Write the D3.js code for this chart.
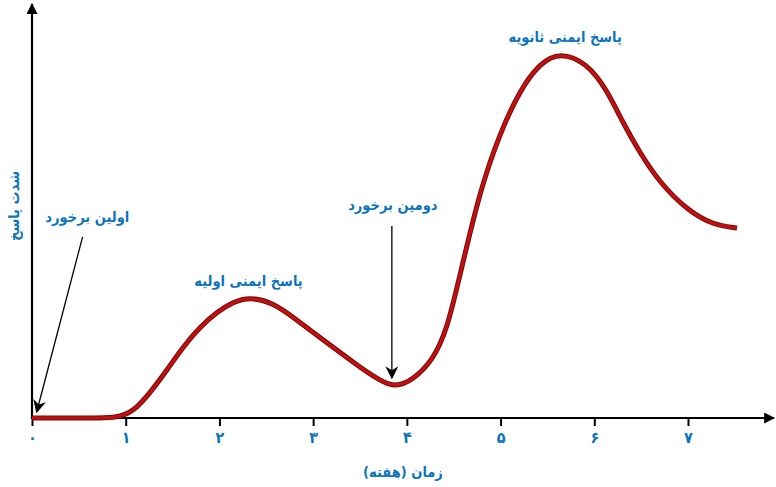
<!DOCTYPE html>
<html>
<head>
<meta charset="utf-8">
<script src="https://cdn.jsdelivr.net/npm/d3@7"></script>
<style>
  body { margin: 0; background: #fff; }
  text { font-family: "DejaVu Sans Condensed", "DejaVu Sans", sans-serif; }
</style>
</head>
<body>
<svg id="chart" width="776" height="487"></svg>
<script>
// weeks on the x axis and response strength (arbitrary units) on y
let weeks = [0, 0.6, 0.907, 1.078, 1.259, 1.441, 1.611, 1.793, 1.974, 2.145, 2.326, 2.572,
  2.785, 3.105, 3.468, 3.842, 4.066, 4.279, 4.428, 4.567, 4.781, 4.994, 5.207, 5.421,
  5.634, 5.922, 6.136, 6.307, 6.488, 6.701, 6.99, 7.267, 7.523]
let response = [0, 0, 0, 1.5, 6.25, 12, 17.75, 22.75, 26.5, 29, 30.3, 28.75,
  25.25, 19.5, 13.25, 7, 9.5, 14.5, 22, 35.75, 57, 71.25, 82, 88.75,
  91.5, 88.75, 82, 73.75, 66.25, 58.75, 52, 48.25, 47.5]
let tick_values = [0, 1, 2, 3, 4, 5, 6, 7]
let tick_labels = ["۰", "۱", "۲", "۳", "۴", "۵", "۶", "۷"]

let x_title = "زمان (هفته)"
let y_title = "شدت پاسخ"
let labels = [
  {text: "اولین برخورد", week: 0.59, value: 49},
  {text: "دومین برخورد", week: 3.85, value: 52},
  {text: "پاسخ ایمنی اولیه", week: 2.31, value: 33},
  {text: "پاسخ ایمنی ثانویه", week: 5.69, value: 94}
]
// arrows: [from week, from value, to week, to value]
let arrows = [
  [0.54, 45.3, 0.05, 1.5],
  [3.84, 48, 3.84, 10]
]

let blue = "#0b74bb"
let svg = d3.select("#chart")
let scales = {
  x: d3.scaleLinear().domain([0, 7]).range([32, 688]),
  y: d3.scaleLinear().domain([0, 100]).range([418, 18])
}

let defs = svg.append("defs")
defs.append("marker")
  .attr("id", "axis_head")
  .attr("viewBox", "0 0 10 10")
  .attr("refX", 9).attr("refY", 5)
  .attr("markerWidth", 5).attr("markerHeight", 5)
  .attr("markerUnits", "strokeWidth")
  .attr("orient", "auto")
  .append("path").attr("d", "M0,0 L10,5 L0,10 Z").attr("fill", "#000")
defs.append("marker")
  .attr("id", "thin_head")
  .attr("viewBox", "0 0 10 10")
  .attr("refX", 9).attr("refY", 5)
  .attr("markerWidth", 10).attr("markerHeight", 10)
  .attr("markerUnits", "strokeWidth")
  .attr("orient", "auto")
  .append("path").attr("d", "M0,0 L10,5 L0,10 L3,5 Z").attr("fill", "#000")

// axes
let x_axis = d3.axisBottom(scales.x)
  .tickValues(tick_values)
  .tickSize(8)
  .tickFormat((d, i) => tick_labels[i])
let gx = svg.append("g")
  .attr("transform", `translate(0, ${scales.y(0)})`)
  .call(x_axis)
gx.select(".domain").remove()
gx.selectAll(".tick line").attr("stroke", "#000").attr("stroke-width", 2)
gx.selectAll(".tick text")
  .attr("fill", blue)
  .attr("font-size", 16)
  .attr("font-weight", "bold")
  .attr("y", 14)

svg.append("line")
  .attr("x1", scales.x(0)).attr("y1", scales.y(0))
  .attr("x2", 774).attr("y2", scales.y(0))
  .attr("stroke", "#000").attr("stroke-width", 2.2)
  .attr("marker-end", "url(#axis_head)")
svg.append("line")
  .attr("x1", scales.x(0)).attr("y1", scales.y(0) + 1)
  .attr("x2", scales.x(0)).attr("y2", 4)
  .attr("stroke", "#000").attr("stroke-width", 2.2)
  .attr("marker-end", "url(#axis_head)")

svg.append("text")
  .attr("x", 403).attr("y", 477)
  .attr("text-anchor", "middle")
  .attr("direction", "rtl")
  .attr("fill", blue).attr("font-size", 14.5).attr("font-weight", "bold")
  .text(x_title)
svg.append("text")
  .attr("transform", "translate(19, 206) rotate(-90)")
  .attr("text-anchor", "middle")
  .attr("direction", "rtl")
  .attr("fill", blue).attr("font-size", 14.5).attr("font-weight", "bold")
  .text(y_title)

// response curve
let points = weeks.map((w, i) => ({week: w, value: response[i]}))
let line = d3.line()
  .x(d => scales.x(d.week))
  .y(d => scales.y(d.value))
  .curve(d3.curveBasis)
svg.append("path")
  .datum(points)
  .attr("d", line)
  .attr("fill", "none")
  .attr("stroke", "#7a0a0a")
  .attr("stroke-width", 5)
svg.append("path")
  .datum(points)
  .attr("d", line)
  .attr("fill", "none")
  .attr("stroke", "#c0100f")
  .attr("stroke-width", 3)

// pointer arrows
svg.selectAll(".pointer")
  .data(arrows).enter()
  .append("line")
  .attr("class", "pointer")
  .attr("x1", d => scales.x(d[0])).attr("y1", d => scales.y(d[1]))
  .attr("x2", d => scales.x(d[2])).attr("y2", d => scales.y(d[3]))
  .attr("stroke", "#000").attr("stroke-width", 1.3)
  .attr("marker-end", "url(#thin_head)")

svg.selectAll(".note")
  .data(labels).enter()
  .append("text")
  .attr("class", "note")
  .attr("x", d => scales.x(d.week))
  .attr("y", d => scales.y(d.value))
  .attr("text-anchor", "middle")
  .attr("direction", "rtl")
  .attr("fill", blue).attr("font-size", 14.5).attr("font-weight", "bold")
  .text(d => d.text)
</script>
</body>
</html>
